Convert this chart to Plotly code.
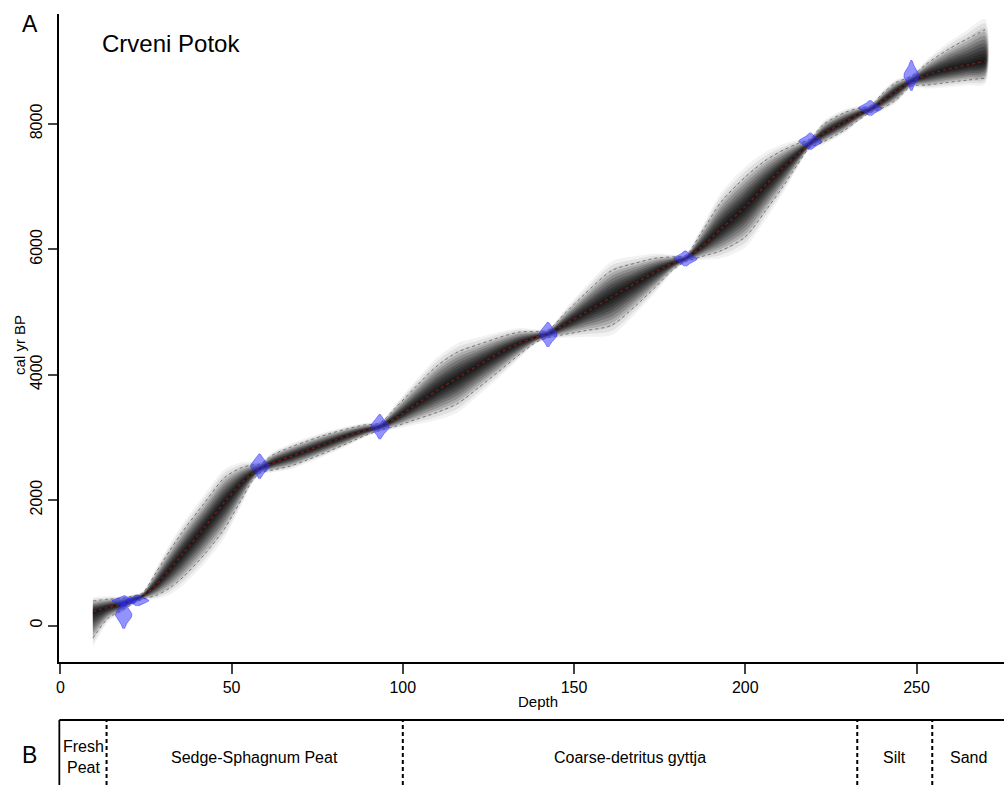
import plotly.graph_objects as go
import numpy as np

# ---------------- data ----------------
# age-depth model: depth (cm), mean age, 95% lower & upper (cal yr BP)
model_depth = [9.5, 14, 18, 21, 24, 28, 32, 36, 42, 48, 53, 56, 58.5, 62, 67, 72, 78, 84, 89, 93.3,
               98, 104, 110, 116, 122, 128, 134, 139, 142.4, 147, 153, 161, 168, 174, 179, 182.5,
               187, 193, 200, 206, 211, 215, 218.7, 223, 229, 233, 236.5, 240, 244, 248.5, 253,
               259, 265, 270]
model_mean = [220, 290, 340, 400, 470, 650, 900, 1160, 1560, 1970, 2280, 2420, 2510, 2590, 2690, 2790,
              2910, 3030, 3110, 3170, 3310, 3530, 3750, 3950, 4150, 4340, 4500, 4600, 4650, 4790,
              4980, 5240, 5460, 5650, 5780, 5850, 6030, 6330, 6680, 7030, 7300, 7500, 7680, 7850,
              8030, 8150, 8230, 8360, 8520, 8680, 8780, 8870, 8940, 9000]
model_lo = [-200, 120, 240, 340, 420, 480, 600, 780, 1130, 1550, 2020, 2300, 2440, 2480, 2540, 2640,
            2770, 2910, 3030, 3110, 3180, 3290, 3400, 3540, 3790, 4050, 4320, 4520, 4590, 4640,
            4700, 4790, 5100, 5410, 5680, 5800, 5880, 5980, 6200, 6620, 7000, 7330, 7610, 7720,
            7900, 8060, 8180, 8250, 8380, 8600, 8620, 8660, 8700, 8730]
model_hi = [390, 420, 430, 470, 520, 850, 1200, 1520, 1950, 2360, 2520, 2560, 2580, 2720, 2840, 2940,
            3050, 3140, 3200, 3230, 3480, 3820, 4140, 4360, 4480, 4590, 4680, 4690, 4710, 4960,
            5280, 5660, 5780, 5860, 5880, 5900, 6250, 6760, 7150, 7420, 7580, 7680, 7750, 8000,
            8180, 8250, 8290, 8480, 8660, 8760, 8960, 9180, 9360, 9500]

# radiocarbon dates (calibrated): depth, age, sd
date_depth = [18.5, 18.5, 22.5, 58.2, 93.3, 142.4, 182.5, 219.0, 236.5, 248.5]
date_age = [170, 390, 400, 2540, 3170, 4640, 5850, 7720, 8250, 8770]
date_sd = [100, 40, 40, 90, 90, 90, 55, 60, 55, 110]

# lithology (panel B)
unit_bounds = [0, 13.5, 100, 232.7, 254.6, 275.5]
unit_names = ["Fresh<br>Peat", "Sedge-Sphagnum Peat", "Coarse-detritus gyttja", "Silt", "Sand"]

x_ticks = [0, 50, 100, 150, 200, 250]
y_ticks = [0, 2000, 4000, 6000, 8000]

# ---------------- figure ----------------
W, H = 1004, 785
def px(x): return x / W
def py(y): return 1 - y / H

FONT = "Liberation Sans, Arial, sans-serif"
fig = go.Figure()

d = np.array(model_depth, float)
m = np.array(model_mean, float)
lo = np.array(model_lo, float)
hi = np.array(model_hi, float)

# grey cloud as nested translucent bands (style: fraction of 95% half-range, opacity)
levels = [(1.35, 0.05), (1.2, 0.07), (1.05, 0.10), (0.92, 0.14), (0.8, 0.16), (0.68, 0.18),
          (0.56, 0.20), (0.45, 0.22), (0.34, 0.23), (0.24, 0.23), (0.14, 0.23), (0.06, 0.23)]
for f, a in levels:
    up = m + f * (hi - m)
    dn = m - f * (m - lo)
    fig.add_trace(go.Scatter(x=np.concatenate([d, d[::-1]]), y=np.concatenate([up, dn[::-1]]),
                             fill="toself", fillcolor=f"rgba(0,0,0,{a})", mode="lines",
                             line=dict(width=0, shape="spline", smoothing=0.8),
                             hoverinfo="skip", showlegend=False))

# 95% range dotted lines
for arr in (lo, hi):
    fig.add_trace(go.Scatter(x=d, y=arr, mode="lines",
                             line=dict(color="rgba(90,90,90,0.75)", width=1, dash="dot", shape="spline", smoothing=0.8),
                             hoverinfo="skip", showlegend=False))
# mean line
fig.add_trace(go.Scatter(x=d, y=m, mode="lines",
                         line=dict(color="rgba(190,30,30,0.6)", width=1.3, dash="dot", shape="spline", smoothing=0.8),
                         hoverinfo="skip", showlegend=False))

# calibrated dates as blue blobs
for dd, aa, ss in zip(date_depth, date_age, date_sd):
    z = np.linspace(-2.2, 2.2, 41)
    hw = min(3.4, 240.0 / ss) * np.exp(-0.5 * z ** 2)
    ys = aa + z * ss
    fig.add_trace(go.Scatter(x=np.concatenate([dd - hw, (dd + hw)[::-1]]), y=np.concatenate([ys, ys[::-1]]),
                             fill="toself", fillcolor="rgba(40,40,255,0.5)", mode="lines",
                             line=dict(width=0.8, color="rgba(40,40,255,0.6)"), hoverinfo="skip", showlegend=False))

x_left = 56.5
y_top, y_bot = 14, 661.7
x0_px, x_scale = 57.5, 3.435
y0_px, y_scale = 625.5, 0.0627
xr = [(x_left - x0_px) / x_scale, (W - x0_px) / x_scale]
yr = [(y0_px - y_bot) / y_scale, (y0_px - y_top) / y_scale]

fig.update_layout(
    width=W, height=H, margin=dict(l=0, r=0, t=0, b=0),
    paper_bgcolor="white", plot_bgcolor="white",
    font=dict(family=FONT, size=16, color="black"),
    xaxis=dict(domain=[px(x_left), 1], range=xr, tickvals=x_ticks, ticks="outside", ticklen=10,
               tickwidth=1.5, showline=True, linewidth=1.8, linecolor="black", showgrid=False,
               zeroline=False, tickfont=dict(size=16, family=FONT), anchor="y"),
    yaxis=dict(domain=[py(y_bot), py(y_top)], range=yr, tickvals=y_ticks, ticks="outside", ticklen=9,
               tickwidth=1.5, showline=True, linewidth=1.8, linecolor="black", showgrid=False,
               zeroline=False, tickangle=-90, ticklabelstandoff=0,
               tickfont=dict(size=16, family=FONT), anchor="x"),
)

# panel B
b_top = 720
shapes = [
    dict(type="line", xref="paper", yref="paper", x0=px(x_left), x1=1, y0=py(b_top), y1=py(b_top),
         line=dict(color="black", width=1.8)),
    dict(type="line", xref="paper", yref="paper", x0=px(x_left), x1=px(x_left), y0=0, y1=py(b_top),
         line=dict(color="black", width=1.8)),
]
for b in unit_bounds[1:-1]:
    shapes.append(dict(type="line", xref="x", yref="paper", x0=b, x1=b, y0=0, y1=py(b_top),
                       line=dict(color="black", width=2, dash="4px,3px")))
fig.update_layout(shapes=shapes)

ann = []
for i, name in enumerate(unit_names):
    mid = (unit_bounds[i] + unit_bounds[i + 1]) / 2
    ann.append(dict(x=mid, y=py(757), xref="x", yref="paper", text=name, showarrow=False,
                    font=dict(size=16, family=FONT), xanchor="center", yanchor="middle"))
ann += [
    dict(x=px(27), y=py(24), xref="paper", yref="paper", text="A", showarrow=False,
         font=dict(size=23, family=FONT), xanchor="center", yanchor="middle"),
    dict(x=px(27), y=py(755), xref="paper", yref="paper", text="B", showarrow=False,
         font=dict(size=23, family=FONT), xanchor="center", yanchor="middle"),
    dict(x=px(97), y=py(44), xref="paper", yref="paper", text="Crveni Potok", showarrow=False,
         font=dict(size=24, family=FONT), xanchor="left", yanchor="middle"),
    dict(x=px(16), y=py(345), xref="paper", yref="paper", text="cal yr BP", showarrow=False,
         textangle=-90, font=dict(size=15, family=FONT), xanchor="center", yanchor="middle"),
    dict(x=px(537), y=py(701), xref="paper", yref="paper", text="Depth", showarrow=False,
         font=dict(size=15, family=FONT), xanchor="center", yanchor="middle"),
]
fig.update_layout(annotations=ann)

fig.write_html("out.html")
